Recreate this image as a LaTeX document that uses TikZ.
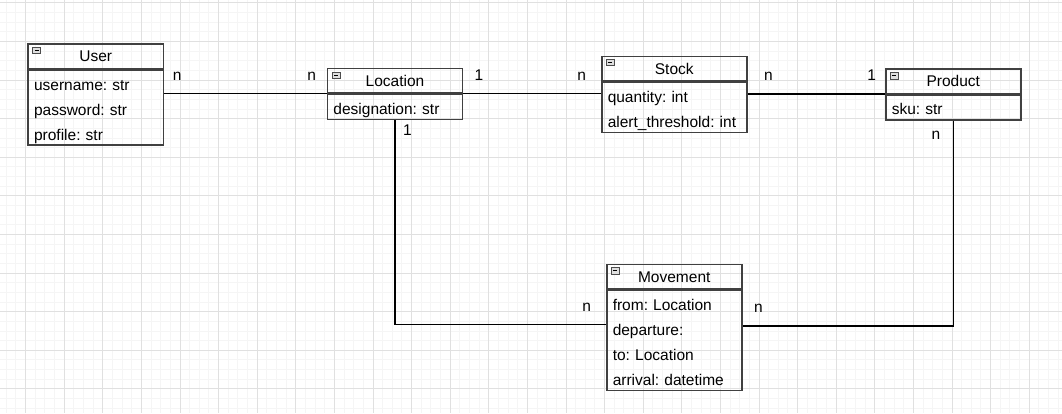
\documentclass[tikz,border=0pt]{standalone}
\usepackage{fontspec}
\setmainfont{Liberation Sans}
\usetikzlibrary{positioning}
\frenchspacing

\definecolor{boxline}{HTML}{404040}
\definecolor{gridmajor}{HTML}{E0E0E0}
\definecolor{gridminor}{HTML}{F5F5F5}
\newcommand{\rowstrut}{\rule[-5pt]{0pt}{25pt}}

\begin{document}
\begin{tikzpicture}[x=1pt, y=-1pt, node distance=0pt]
    % Stili
    \tikzstyle{classhead} = [draw=boxline, line width=1.5pt, rectangle, minimum width=135, minimum height=24.5, inner sep=0pt, text height=11.1pt, text depth=0pt, anchor=north west, font=\fontsize{15.5}{18}\selectfont]
    \tikzstyle{classbody} = [draw=boxline, line width=1.5pt, rectangle, text width=123pt, inner xsep=6pt, inner ysep=0pt, align=left, font=\fontsize{15.5}{25}\selectfont]
    \tikzstyle{minusbox} = [draw=gray!60!black, fill=gray!25, line width=0.7pt, minimum width=8, minimum height=6.5, inner sep=0pt, anchor=north west,
        path picture={\draw[black, line width=1pt] ([xshift=2pt]path picture bounding box.west) -- ([xshift=-2pt]path picture bounding box.east);}]
    \tikzstyle{card} = [anchor=base, inner sep=0pt, font=\fontsize{15.5}{18}\selectfont]
    \tikzstyle{link} = [draw=black, line width=1.1pt]

    % Sfondo a griglia
    \useasboundingbox (0,0) rectangle (1062,413);
    \fill[white] (0,0) rectangle (1062,413);
    \foreach \gx in {6.3,15.95,...,1062} \draw[gridminor, line width=1pt] (\gx,0) -- (\gx,413);
    \foreach \gy in {2.9,12.55,...,413} \draw[gridminor, line width=1pt] (0,\gy) -- (1062,\gy);
    \foreach \gx in {25.6,64.2,...,1062} \draw[gridmajor, line width=1pt] (\gx,0) -- (\gx,413);
    \foreach \gy in {2.9,41.5,...,413} \draw[gridmajor, line width=1pt] (0,\gy) -- (1062,\gy);

    % Classi
    \node [classhead, minimum width=135.5] (user) at (27.3,43.3) {User};
    \node [classbody, text width=123.5pt, below=of user] (userbody) {\rowstrut username: str\\\rowstrut password: str\\\rowstrut profile: str};

    \node [classhead] (location) at (326.7,67.7) {Location};
    \node [classbody, below=of location] (locationbody) {\rowstrut designation: str};

    \node [classhead, minimum width=145] (stock) at (601,55.7) {Stock};
    \node [classbody, text width=133pt, below=of stock] (stockbody) {\rowstrut quantity: int\\\rowstrut alert\_threshold: int};

    \node [classhead] (product) at (885,68) {Product};
    \node [classbody, below=of product] (productbody) {\rowstrut sku: str};

    \node [classhead] (movement) at (606,263.5) {Movement};
    \node [classbody, below=of movement] (movementbody) {\rowstrut from: Location\\\rowstrut departure:\\\rowstrut to: Location\\\rowstrut arrival: datetime};

    % Icone di riduzione
    \node [minusbox] (user-min) at ([xshift=5pt, yshift=-3.5pt]user.north west) {};
    \node [minusbox] (location-min) at ([xshift=5pt, yshift=-4pt]location.north west) {};
    \node [minusbox] (stock-min) at ([xshift=4.5pt, yshift=-3pt]stock.north west) {};
    \node [minusbox] (product-min) at ([xshift=4.5pt, yshift=-4pt]product.north west) {};
    \node [minusbox] (movement-min) at ([xshift=4.5pt, yshift=-3.5pt]movement.north west) {};

    % Collegamenti
    \draw [link] (location.south west) -- (location.south west -| userbody.east);
    \draw [link] (location.south east) -- (location.south east -| stockbody.west);
    \draw [link] (product.south west) -- (product.south west -| stockbody.east);
    \draw [link] (locationbody.south) |- ([yshift=-35pt]movementbody.north west);
    \draw [link] (productbody.south) |- ([yshift=-36.5pt]movementbody.north east);

    % Cardinalita
    \node [card] (user-n) at (177.3,80.3) {n};
    \node [card] (location-n) at (311.7,80.3) {n};
    \node [card] (location-1) at (479,80.3) {1};
    \node [card] (stock-n1) at (581.7,80.3) {n};
    \node [card] (stock-n2) at (768.3,80.3) {n};
    \node [card] (product-1) at (871.7,80.3) {1};
    \node [card] (location-1b) at (407.5,135.3) {1};
    \node [card] (product-n) at (936,139.5) {n};
    \node [card] (movement-n1) at (586.7,311.7) {n};
    \node [card] (movement-n2) at (758.3,312.5) {n};

\end{tikzpicture}
\end{document}
